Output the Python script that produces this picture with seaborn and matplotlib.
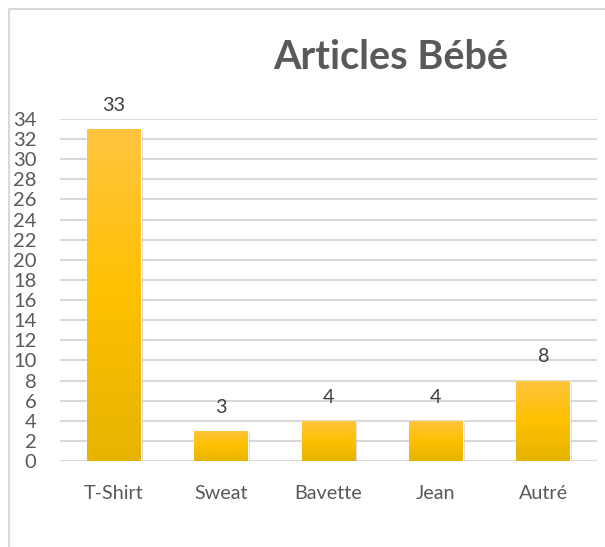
import numpy as np
import pandas as pd
import matplotlib
matplotlib.use("Agg")
from matplotlib import pyplot as plt
from matplotlib.colors import LinearSegmentedColormap
from matplotlib.lines import Line2D
import matplotlib.patheffects as pe
import seaborn as sns

categories = ["T-Shirt", "Sweat", "Bavette", "Jean", "Autré"]
values = [33, 3, 4, 4, 8]
yticks = list(range(0, 35, 2))

sns.set_theme(style="white")
plt.rcParams['font.family'] = ['Lato', 'DejaVu Sans']

df = pd.DataFrame({"article": categories, "n": values})

fig = plt.figure(figsize=(6.05, 5.47), dpi=100)
ax = fig.add_axes([0.0992, 0.1572, 0.8876, 0.6253])
sns.barplot(data=df, x="article", y="n", color="#FFC000", width=0.5, ax=ax,
            saturation=1)

ax.set_yticks(yticks)
ax.set_yticklabels([str(t) for t in yticks])
ax.grid(axis="y", color="#D9D9D9", linewidth=1.5)
ax.set_axisbelow(True)
for s in ax.spines.values():
    s.set_visible(False)
ax.set_xlabel("")
ax.set_ylabel("")
ax.tick_params(axis="y", colors="#595959", labelsize=14.5, length=0, pad=17)
ax.tick_params(axis="x", colors="#595959", labelsize=14.2, length=0, pad=17)

# vertical gradient on each bar
cmap = LinearSegmentedColormap.from_list("g", ["#E6B400", "#FFC000", "#FFC540"])
grad = np.linspace(0, 1, 256).reshape(-1, 1)
for p in ax.patches:
    x0, w, h = p.get_x(), p.get_width(), p.get_height()
    p.set_path_effects([pe.SimplePatchShadow(offset=(1.5, -1.5), shadow_rgbFace="#888888", alpha=0.35),
                        pe.Normal()])
    im = ax.imshow(grad, cmap=cmap, aspect="auto", origin="lower",
                   extent=[x0, x0 + w, 0, h], zorder=p.get_zorder() + 0.1)
    im.set_clip_path(p)
    ax.text(x0 + w / 2, h + 1.5, f"{int(h)}", ha="center", va="bottom",
            fontsize=14.2, color="#404040")
ax.set_xlim(-0.5, len(categories) - 0.5)
ax.set_ylim(0, 34)

fig.text(0.646, 0.895, "Articles Bébé", ha="center", va="center",
         fontsize=28.5, fontweight="bold", color="#595959")

# chart frame (left and top edges)
fig.add_artist(Line2D([0.0149, 0.0149], [0, 0.984], transform=fig.transFigure,
                      color="#D9D9D9", linewidth=1.5))
fig.add_artist(Line2D([0.0149, 1], [0.984, 0.984], transform=fig.transFigure,
                      color="#D9D9D9", linewidth=1.5))

fig.savefig("out.png", dpi=100)
